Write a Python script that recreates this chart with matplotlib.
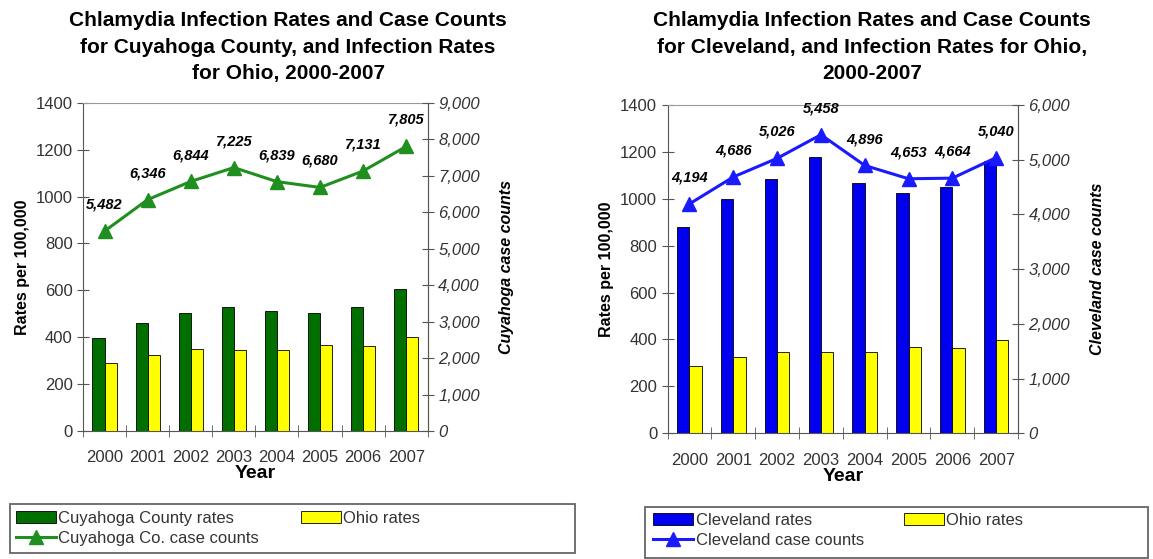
import matplotlib.pyplot as plt
from matplotlib.patches import Rectangle
import numpy as np

plt.rcParams['font.family'] = ['Liberation Sans', 'DejaVu Sans']

years = ['2000', '2001', '2002', '2003', '2004', '2005', '2006', '2007']
cuyahoga_rates = [395, 459, 502, 530, 513, 502, 530, 606]
cleveland_rates = [881, 1001, 1085, 1180, 1069, 1026, 1052, 1160]
ohio_rates = [288, 324, 348, 345, 345, 366, 364, 399]
cuyahoga_counts = [5482, 6346, 6844, 7225, 6839, 6680, 7131, 7805]
cleveland_counts = [4194, 4686, 5026, 5458, 4896, 4653, 4664, 5040]

x = np.arange(len(years))
w = 0.28
W, H = 1153, 559

fig = plt.figure(figsize=(11.53, 5.59), dpi=100)


def panel(rect, rates, counts, color, line_color, cmax, right_label, title, title_x,
          name_rates, name_counts, box_px, leg_px, colsp):
    ax = fig.add_axes(rect)
    b1 = ax.bar(x - w / 2, rates, w, color=color, edgecolor='black', linewidth=0.6)
    b2 = ax.bar(x + w / 2, ohio_rates, w, color='#ffff00', edgecolor='black', linewidth=0.6)
    ax.set_xlim(-0.5, 7.5)
    ax.set_ylim(0, 1400)
    ax.set_yticks(range(0, 1401, 200))
    ax.set_xticks(x)
    ax.set_xticklabels(years)
    ax.set_xticks(np.arange(-0.5, 8, 1), minor=True)
    ax.tick_params(axis='x', which='major', length=0, pad=14, labelsize=12, labelcolor='#333333')
    ax.tick_params(axis='x', which='minor', length=8, direction='inout', color='#555555')
    ax.tick_params(axis='y', length=8, direction='inout', labelsize=12, labelcolor='#333333', color='#555555')
    for s in ['left', 'bottom']:
        ax.spines[s].set_color('#555555')
    for s in ['top', 'right']:
        ax.spines[s].set_color('#999999')
    ax.set_ylabel('Rates per 100,000', fontsize=11.5, fontweight='bold', labelpad=4)
    ax.set_xlabel('Year', fontsize=14, fontweight='bold', labelpad=0)

    ax2 = ax.twinx()
    ln, = ax2.plot(x, counts, color=line_color, lw=2.2, marker='^', markersize=10)
    ax2.set_ylim(0, cmax)
    ax2.set_yticks(range(0, cmax + 1, 1000))
    ax2.set_yticklabels([f'{v:,}' for v in range(0, cmax + 1, 1000)], style='italic')
    ax2.tick_params(axis='y', length=8, direction='inout', labelsize=12, labelcolor='#333333', color='#555555')
    ax2.spines['right'].set_color('#555555')
    for s in ['top', 'left', 'bottom']:
        ax2.spines[s].set_visible(False)
    ax2.set_ylabel(right_label, fontsize=11.5, fontweight='bold', style='italic', labelpad=14)
    for xi, c in zip(x, counts):
        ax2.annotate(f'{c:,}', (xi, c), xytext=(0, 14), textcoords='offset points',
                     ha='center', va='bottom', fontsize=10.5, fontweight='bold', style='italic')

    fig.text(title_x / W, 0.98, title, ha='center', va='top', fontsize=15, fontweight='bold',
             linespacing=1.5)

    x0, y0, x1, y1 = box_px
    fig.patches.append(Rectangle((x0 / W, 1 - y1 / H), (x1 - x0) / W, (y1 - y0) / H,
                                 transform=fig.transFigure, fill=False,
                                 edgecolor='#666666', linewidth=1.3))
    fig.legend([b1, ln, b2], [name_rates, name_counts, 'Ohio rates'], ncol=2,
               loc='upper left', bbox_to_anchor=(leg_px[0] / W, 1 - leg_px[1] / H),
               fontsize=12, frameon=False, borderaxespad=0, borderpad=0,
               handlelength=2.4, handletextpad=0.15, labelspacing=0.3,
               columnspacing=colsp, labelcolor='#333333')


panel([0.072, 0.229, 0.299, 0.587], cuyahoga_rates, cuyahoga_counts, '#006f00', '#1f8f1f',
      9000, 'Cuyahoga case counts',
      'Chlamydia Infection Rates and Case Counts\nfor Cuyahoga County, and Infection Rates\nfor Ohio, 2000-2007',
      288, 'Cuyahoga County rates', 'Cuyahoga Co. case counts',
      (10, 504, 575, 553), (16, 511), 2.5)
panel([0.579, 0.225, 0.304, 0.587], cleveland_rates, cleveland_counts, '#0000ee', '#1a1aff',
      6000, 'Cleveland case counts',
      'Chlamydia Infection Rates and Case Counts\nfor Cleveland, and Infection Rates for Ohio,\n2000-2007',
      872, 'Cleveland rates', 'Cleveland case counts',
      (645, 507, 1148, 558), (653, 513), 2.4)

fig.savefig('out.png', dpi=100)
